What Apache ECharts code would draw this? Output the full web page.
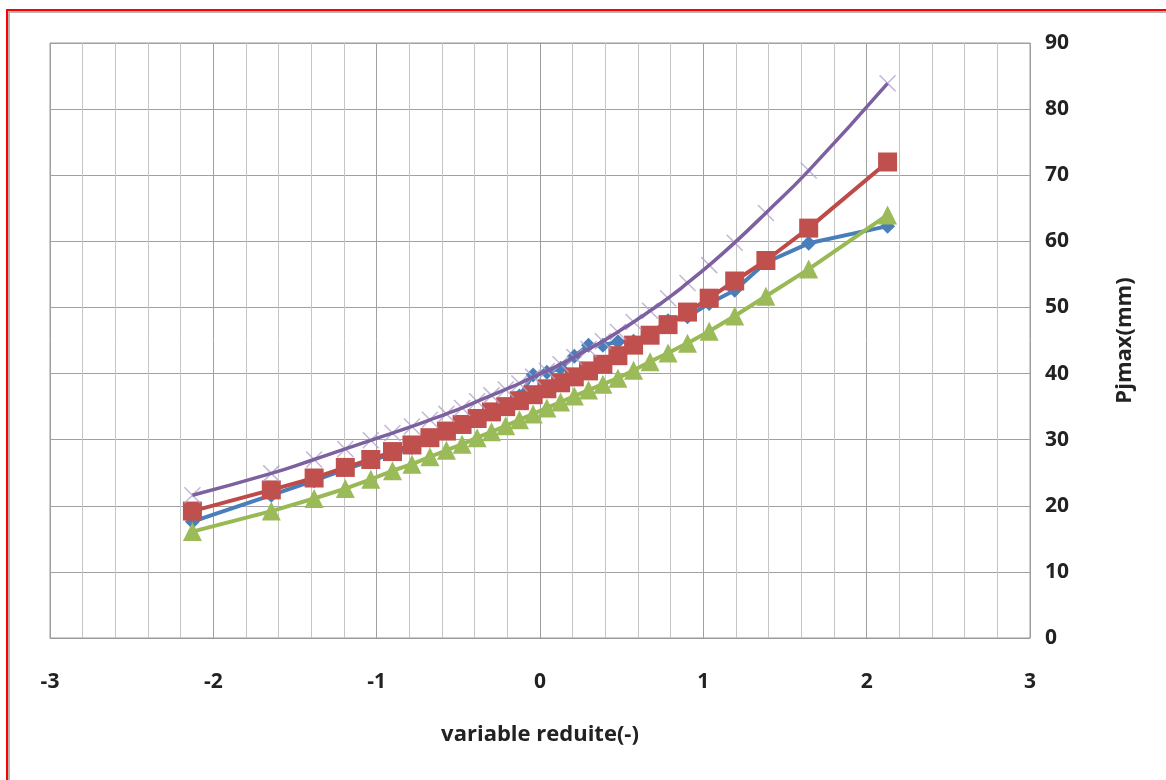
<!DOCTYPE html>
<html>
<head>
<meta charset="utf-8">
<script src="https://cdn.jsdelivr.net/npm/echarts@6/dist/echarts.min.js"></script>
<style>
  html, body { margin: 0; padding: 0; background: #fff; }
  .frame {
    position: absolute; left: 6px; top: 9px; width: 1200px; height: 800px;
    border-left: 2px solid #f00; border-top: 2px solid #f00;
  }
  .inner {
    position: absolute; left: 0; top: 0; width: 100%; height: 100%;
    border-left: 2px solid #b5b5b5; border-top: 2px solid #b5b5b5;
  }
  #chart { position: absolute; left: 0; top: 0; width: 1166px; height: 780px; }
</style>
</head>
<body>
<div class="frame"><div class="inner"></div></div>
<div id="chart"></div>
<script>
// reduced variable (x) shared by all series
const zValues = [-2.128, -1.645, -1.383, -1.192, -1.036, -0.903, -0.784, -0.674, -0.573, -0.477,
  -0.385, -0.297, -0.210, -0.126, -0.042, 0.042, 0.126, 0.210, 0.297, 0.385,
  0.477, 0.573, 0.674, 0.784, 0.903, 1.036, 1.192, 1.383, 1.645, 2.128]

const blueValues = [17.6, 21.6, 23.8, 25.5, 26.8, 27.9, 28.8, 29.9, 31.0, 32.0,
  33.0, 34.0, 35.1, 36.6, 39.8, 40.2, 40.8, 42.6, 44.3, 44.3,
  44.8, 44.9, 46.0, 48.0, 48.6, 50.6, 52.6, 56.8, 59.7, 62.3]

const redValues = [19.2, 22.4, 24.2, 25.8, 27.0, 28.2, 29.2, 30.3, 31.3, 32.3,
  33.2, 34.2, 35.0, 35.9, 36.8, 37.7, 38.6, 39.5, 40.4, 41.4,
  42.7, 44.3, 45.8, 47.4, 49.3, 51.4, 54.0, 57.1, 62.0, 72.0]

const greenValues = [16.1, 19.2, 21.1, 22.6, 24.0, 25.3, 26.3, 27.4, 28.4, 29.3,
  30.3, 31.2, 32.1, 33.0, 33.9, 34.8, 35.7, 36.6, 37.5, 38.4,
  39.3, 40.5, 41.8, 43.1, 44.6, 46.4, 48.7, 51.7, 55.8, 64.0]

const purpleValues = [21.6, 24.9, 27.0, 28.6, 29.9, 31.0, 32.0, 33.0, 33.9, 34.8,
  35.8, 36.7, 37.6, 38.5, 39.5, 40.4, 41.4, 42.5, 43.7, 44.9,
  46.3, 47.8, 49.5, 51.4, 53.7, 56.4, 59.8, 64.3, 70.7, 83.9]

const xTicks = [-3, 3, 1]
const yTicks = [0, 90, 10]

const pairs = vals => zValues.map((z, i) => [z, vals[i]])
const font = 'Open Sans'

const ec = echarts.init(document.getElementById('chart'))
ec.setOption({
  animation: false,
  grid: {
    left: 50, right: 136, top: 43, bottom: 142,
    show: true, borderColor: '#9a9a9a', borderWidth: 1
  },
  xAxis: {
    type: 'value',
    min: xTicks[0], max: xTicks[1], interval: xTicks[2],
    name: 'variable reduite(-)',
    nameLocation: 'middle',
    nameGap: 86,
    nameTextStyle: {fontFamily: font, fontWeight: 'bold', fontSize: 22, color: '#222'},
    axisLine: {show: true, lineStyle: {color: '#9a9a9a'}},
    axisTick: {show: false},
    axisLabel: {margin: 34, fontFamily: font, fontWeight: 'bold', fontSize: 21, color: '#222'},
    splitLine: {show: true, lineStyle: {color: '#a0a0a0', width: 1}},
    minorTick: {show: false, splitNumber: 5},
    minorSplitLine: {show: true, lineStyle: {color: '#c4c4c4', width: 1}}
  },
  yAxis: {
    type: 'value',
    position: 'right',
    min: yTicks[0], max: yTicks[1], interval: yTicks[2],
    name: 'Pjmax(mm)',
    nameLocation: 'middle',
    nameGap: 84,
    nameRotate: 90,
    nameTextStyle: {fontFamily: font, fontWeight: 'bold', fontSize: 22, color: '#222'},
    axisLine: {show: true, lineStyle: {color: '#9a9a9a'}},
    axisTick: {show: false},
    axisLabel: {margin: 15, fontFamily: font, fontWeight: 'bold', fontSize: 21, color: '#222'},
    splitLine: {show: true, lineStyle: {color: '#a0a0a0', width: 1}}
  },
  series: [
    {
      name: 'serie1',
      type: 'line',
      data: pairs(blueValues),
      symbol: 'diamond',
      symbolSize: 15,
      lineStyle: {color: '#4a7ebb', width: 4},
      itemStyle: {color: '#4a7ebb', borderWidth: 0},
      z: 2
    },
    {
      name: 'serie2',
      type: 'line',
      data: pairs(redValues),
      symbol: 'rect',
      symbolSize: 19,
      lineStyle: {color: '#be4b48', width: 4},
      itemStyle: {color: '#c0504d', borderWidth: 0},
      z: 3
    },
    {
      name: 'serie3',
      type: 'line',
      data: pairs(greenValues),
      symbol: 'triangle',
      symbolSize: 19,
      lineStyle: {color: '#98b954', width: 4},
      itemStyle: {color: '#9bbb59', borderWidth: 0},
      z: 4
    },
    {
      name: 'serie4 markers',
      type: 'scatter',
      data: pairs(purpleValues),
      symbol: 'path://M0,0L10,10M10,0L0,10',
      symbolSize: 16,
      itemStyle: {color: 'rgba(0,0,0,0)', borderColor: '#b1a5cc', borderWidth: 1.5},
      z: 5
    },
    {
      name: 'serie4',
      type: 'line',
      data: pairs(purpleValues),
      smooth: true,
      symbol: 'none',
      lineStyle: {color: '#7d60a0', width: 3.5},
      z: 6
    }
  ]
})
</script>
</body>
</html>
